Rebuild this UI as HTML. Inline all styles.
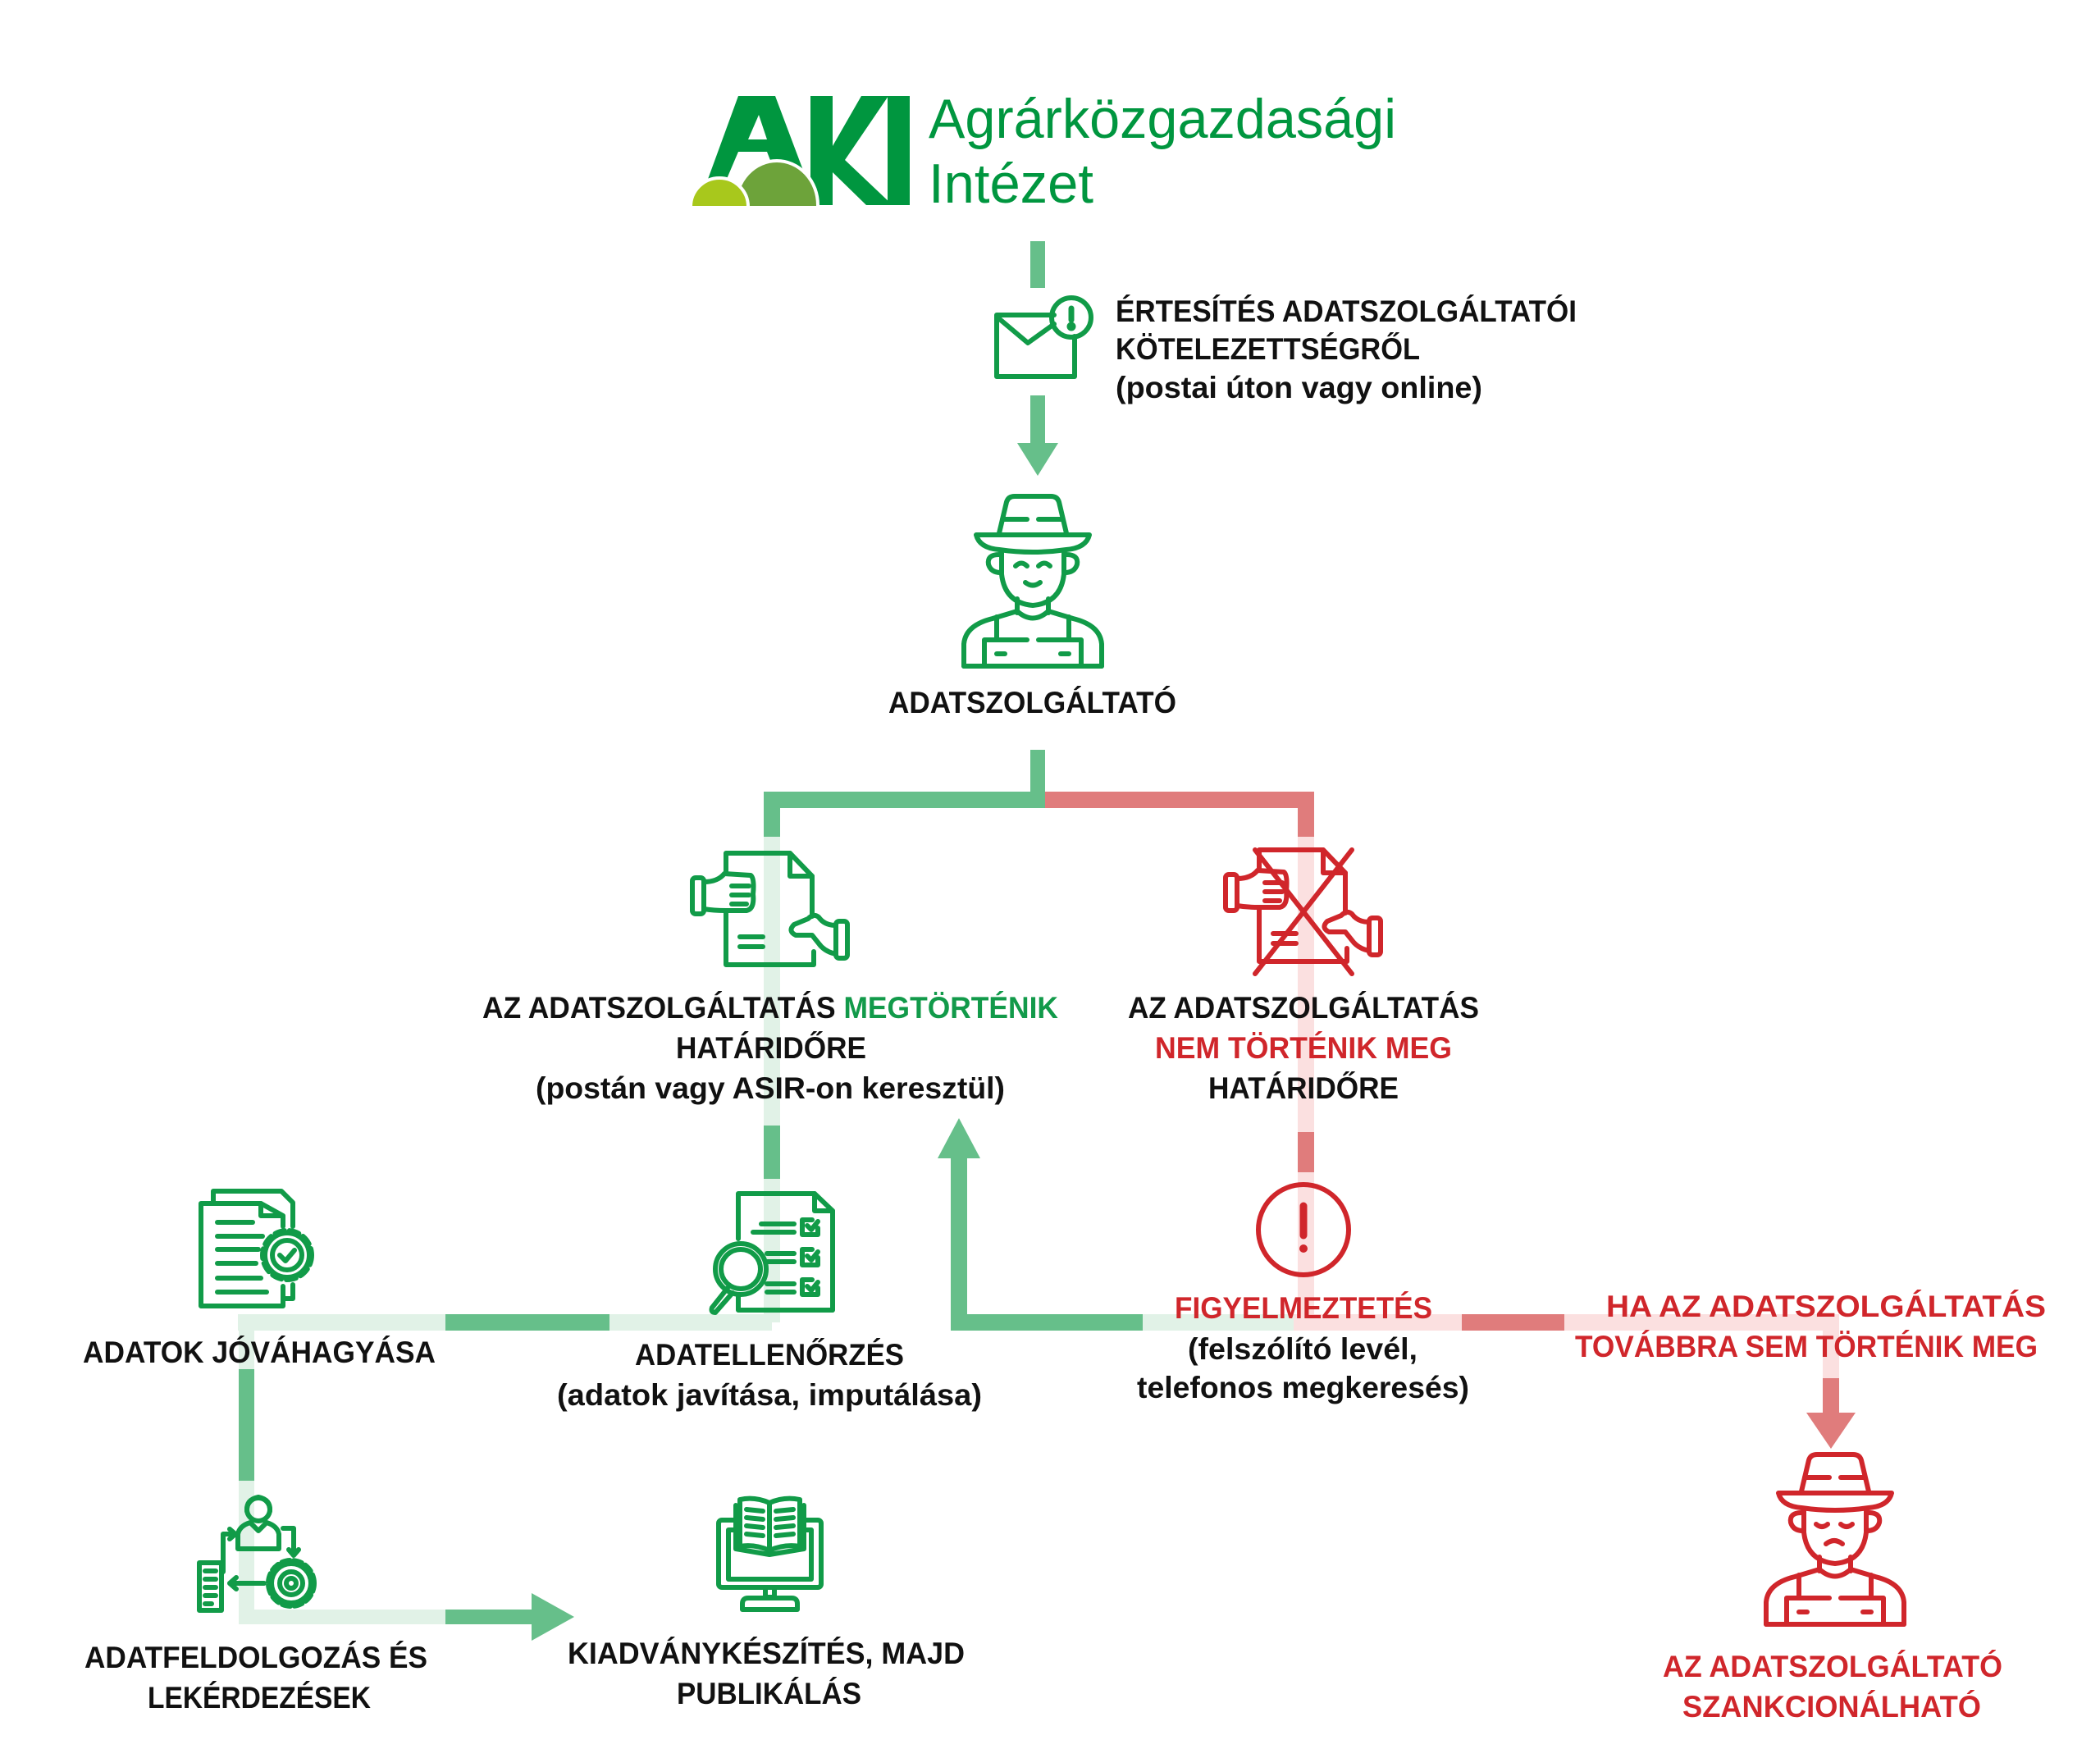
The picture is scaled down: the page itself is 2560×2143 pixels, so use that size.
<!DOCTYPE html>
<html><head><meta charset="utf-8"><style>
html,body{margin:0;padding:0;background:#fff;}
svg{display:block;}
text{font-family:"Liberation Sans",sans-serif;font-weight:bold;}
</style></head><body>
<svg width="2560" height="2143" viewBox="0 0 2560 2143" xmlns="http://www.w3.org/2000/svg">
<rect width="2560" height="2143" fill="#fff"/>

<!-- LOGO -->
<g>
<polygon points="858,232 900,117 945,117 995,250 960,250 935,185 900,185 880,232" fill="#00963f"/>
<polygon points="912,170 925,140 935,170" fill="#fff"/>
<rect x="988" y="117" width="27" height="133" fill="#00963f"/>
<polygon points="1015,178 1050,117 1083,117 1030,195 1088,250 1056,250 1015,210" fill="#00963f"/>
<rect x="1082" y="117" width="27" height="133" fill="#00963f"/>
<ellipse cx="947" cy="250" rx="50" ry="54" fill="#6da33a" stroke="#fff" stroke-width="4"/>
<circle cx="877" cy="252" r="35" fill="#a8c81c" stroke="#fff" stroke-width="4"/>
<rect x="830" y="251" width="200" height="70" fill="#fff"/>
<text x="1132" y="168" font-size="68" textLength="570" lengthAdjust="spacingAndGlyphs" fill="#00963f" style="font-weight:normal">Agrárközgazdasági</text>
<text x="1132" y="247" font-size="68" textLength="201" lengthAdjust="spacingAndGlyphs" fill="#00963f" style="font-weight:normal">Intézet</text>
</g>

<!-- CONNECTORS -->
<g>
<rect x="1256" y="294" width="18" height="57" fill="#66bf8a"/>
<rect x="1256" y="482" width="18" height="60" fill="#66bf8a"/>
<polygon points="1240,540 1290,540 1265,580" fill="#66bf8a"/>
<rect x="1256" y="914" width="18" height="61" fill="#66bf8a"/>
<rect x="931" y="965" width="343" height="20" fill="#66bf8a"/>
<rect x="1274" y="965" width="328" height="20" fill="#e07c7c"/>
<rect x="931" y="985" width="20" height="35" fill="#66bf8a"/>
<rect x="931" y="1020" width="20" height="352" fill="#e1f2e7"/>
<rect x="931" y="1372" width="20" height="65" fill="#66bf8a"/>
<rect x="931" y="1437" width="20" height="175" fill="#e1f2e7"/>
<rect x="1582" y="985" width="20" height="35" fill="#e07c7c"/>
<rect x="1582" y="1020" width="20" height="360" fill="#fbe0e0"/>
<rect x="1582" y="1380" width="20" height="49" fill="#e07c7c"/>
<rect x="1582" y="1429" width="20" height="183" fill="#fbe0e0"/>
<rect x="290" y="1602" width="253" height="20" fill="#e1f2e7"/>
<rect x="543" y="1602" width="200" height="20" fill="#66bf8a"/>
<rect x="743" y="1602" width="198" height="20" fill="#e1f2e7"/>
<rect x="1159" y="1602" width="234" height="20" fill="#66bf8a"/>
<rect x="1393" y="1602" width="184" height="20" fill="#e1f2e7"/>
<rect x="1577" y="1602" width="205" height="20" fill="#fbe0e0"/>
<rect x="1782" y="1602" width="125" height="20" fill="#e07c7c"/>
<rect x="1907" y="1602" width="335" height="20" fill="#fbe0e0"/>
<rect x="1159" y="1408" width="20" height="214" fill="#66bf8a"/>
<polygon points="1143,1412 1195,1412 1169,1363" fill="#66bf8a"/>
<rect x="2222" y="1612" width="20" height="68" fill="#fbe0e0"/>
<rect x="2222" y="1680" width="20" height="44" fill="#e07c7c"/>
<polygon points="2202,1722 2262,1722 2232,1766" fill="#e07c7c"/>
<rect x="291" y="1612" width="19" height="57" fill="#e1f2e7"/>
<rect x="291" y="1669" width="19" height="136" fill="#66bf8a"/>
<rect x="291" y="1805" width="19" height="175" fill="#e1f2e7"/>
<rect x="291" y="1962" width="252" height="18" fill="#e1f2e7"/>
<rect x="543" y="1962" width="107" height="18" fill="#66bf8a"/>
<polygon points="648,1942 648,2000 700,1971" fill="#66bf8a"/>
</g>

<!-- ICONS -->
<g fill="none" stroke="#119b48" stroke-width="6" stroke-linecap="round" stroke-linejoin="round">
<path d="M1285,384 L1215,384 L1215,459 L1310,459 L1310,410"/>
<path d="M1215,386 L1253,418 L1285,395"/>
<circle cx="1306" cy="387" r="24"/>
<line x1="1306" y1="376" x2="1306" y2="390" stroke-width="7"/>
<circle cx="1306" cy="398" r="2.5" fill="#119b48"/>

<g id="farmer">
<path d="M1218,650 L1227,612 Q1229,605 1237,605 L1281,605 Q1289,605 1291,612 L1300,650"/>
<line x1="1222" y1="633" x2="1252" y2="633"/><line x1="1266" y1="633" x2="1295" y2="633"/>
<path d="M1190,652 L1328,652 Q1324,668 1300,670 Q1259,676 1218,670 Q1194,668 1190,652Z"/>
<path d="M1221,672 L1221,700 Q1225,735 1259,738 Q1293,735 1297,700 L1297,672"/>
<path d="M1218,676 Q1203,676 1205,688 Q1208,698 1220,698"/>
<path d="M1300,676 Q1315,676 1313,688 Q1310,698 1298,698"/>
<line x1="1240" y1="730" x2="1240" y2="747"/><line x1="1278" y1="730" x2="1278" y2="747"/>
<path d="M1240,745 Q1259,762 1278,745"/>
<path d="M1175,812 L1175,785 Q1177,762 1210,754 L1240,745"/>
<path d="M1343,812 L1343,785 Q1341,762 1308,754 L1278,745"/>
<line x1="1215" y1="752" x2="1215" y2="780"/><line x1="1303" y1="752" x2="1303" y2="780"/>
<path d="M1252,780 L1200,780 L1200,812 L1318,812 L1318,780 L1266,780"/>
<line x1="1215" y1="797" x2="1225" y2="797"/><line x1="1293" y1="797" x2="1303" y2="797"/>
<line x1="1175" y1="812" x2="1343" y2="812"/>
</g>
<path d="M1238,690 Q1245,683 1252,690"/><path d="M1266,690 Q1273,683 1280,690"/>
<path d="M1250,710 Q1259,717 1268,710"/>

<g id="hand">
<path d="M885,1062 L885,1040 L963,1040 L990,1068 L990,1117"/>
<path d="M963,1040 L963,1068 L990,1068"/>
<path d="M885,1112 L885,1176 L992,1176 L992,1160"/>
<rect x="844" y="1070" width="14" height="44" rx="4"/>
<path d="M858,1075 Q875,1075 883,1065 L915,1067 Q920,1070 918,1090 Q920,1108 910,1110 L885,1110 Q870,1110 858,1108"/>
<line x1="892" y1="1080" x2="913" y2="1080"/><line x1="892" y1="1091" x2="913" y2="1091"/><line x1="892" y1="1102" x2="910" y2="1102"/>
<rect x="1019" y="1123" width="14" height="45" rx="4"/>
<path d="M1019,1128 Q1005,1128 998,1118 Q992,1113 985,1120 L968,1127 Q960,1135 970,1140 L990,1140 L998,1150 Q1005,1160 1019,1163"/>
<line x1="902" y1="1142" x2="930" y2="1142"/><line x1="902" y1="1154" x2="930" y2="1154"/>
</g>

<path d="M260,1467 L260,1452 L343,1452 L357,1466 L357,1495"/>
<path d="M357,1566 L357,1583 L345,1583"/>
<path d="M318,1467 L245,1467 L245,1592 L345,1592 L345,1568"/>
<path d="M318,1467 L345,1482 L345,1495 M318,1467 L318,1482 L345,1482"/>
<line x1="265" y1="1490" x2="308" y2="1490"/>
<line x1="265" y1="1507" x2="320" y2="1507"/>
<line x1="265" y1="1523" x2="315" y2="1523"/>
<line x1="265" y1="1540" x2="312" y2="1540"/>
<line x1="265" y1="1558" x2="318" y2="1558"/>
<line x1="265" y1="1575" x2="325" y2="1575"/>
<circle cx="350" cy="1530" r="30" stroke-dasharray="12 6"/>
<circle cx="350" cy="1530" r="27"/>
<circle cx="350" cy="1530" r="18"/>
<path d="M341,1530 L348,1537 L359,1524"/>

<path d="M900,1510 L900,1455 L993,1455 L1015,1476 L1015,1597 L900,1597 L900,1580"/>
<path d="M993,1455 L993,1476 L1015,1476"/>
<line x1="928" y1="1492" x2="968" y2="1492"/><line x1="918" y1="1502" x2="968" y2="1502"/>
<line x1="935" y1="1528" x2="968" y2="1528"/><line x1="935" y1="1538" x2="968" y2="1538"/>
<line x1="935" y1="1565" x2="968" y2="1565"/><line x1="935" y1="1575" x2="968" y2="1575"/>
<path d="M990,1487 L978,1487 L978,1505 L997,1505 L997,1497 M984,1494 L989,1499 L997,1489"/>
<path d="M990,1523 L978,1523 L978,1542 L997,1542 L997,1533 M984,1531 L989,1536 L997,1526"/>
<path d="M990,1560 L978,1560 L978,1578 L997,1578 L997,1570 M984,1568 L989,1573 L997,1563"/>
<circle cx="903" cy="1547" r="31" fill="#fff"/>
<circle cx="903" cy="1547" r="24"/>
<path d="M887,1570 L868,1594 Q866,1600 872,1600 L893,1576"/>

<circle cx="315" cy="1840" r="14"/>
<path d="M301,1842 Q300,1828 315,1825 Q330,1828 329,1842"/>
<path d="M290,1888 L290,1870 Q292,1860 305,1856 L315,1866 L325,1856 Q338,1860 340,1870 L340,1888 Z"/>
<path d="M272,1916 L272,1870 L285,1870 M280,1864 L287,1870 L280,1876"/>
<path d="M345,1863 L358,1863 L358,1895 M352,1889 L358,1896 L364,1889"/>
<rect x="243" y="1905" width="27" height="58"/>
<line x1="250" y1="1915" x2="263" y2="1915"/><line x1="250" y1="1925" x2="263" y2="1925"/><line x1="250" y1="1935" x2="263" y2="1935"/><line x1="250" y1="1945" x2="263" y2="1945"/><line x1="250" y1="1955" x2="258" y2="1955"/>
<path d="M322,1930 L280,1930 M288,1923 L280,1930 L288,1937"/>
<circle cx="355" cy="1930" r="28" stroke-dasharray="10 5"/>
<circle cx="355" cy="1930" r="24"/>
<circle cx="355" cy="1930" r="14"/>
<circle cx="355" cy="1930" r="6"/>

<rect x="876" y="1853" width="125" height="82" rx="4"/>
<rect x="888" y="1865" width="101" height="60"/>
<rect x="933" y="1935" width="11" height="12"/>
<path d="M905,1962 L905,1955 Q905,1948 912,1948 L965,1948 Q972,1948 972,1955 L972,1962 Z"/>
<path d="M897,1835 L897,1888 L938,1895 L980,1888 L980,1835" fill="#fff"/>
<path d="M902,1828 Q920,1824 938,1832 Q956,1824 975,1828 L975,1885 Q956,1882 938,1890 Q920,1882 902,1885 Z" fill="#fff"/>
<line x1="938" y1="1832" x2="938" y2="1890"/>
<line x1="910" y1="1840" x2="930" y2="1842"/><line x1="910" y1="1850" x2="930" y2="1852"/><line x1="910" y1="1860" x2="930" y2="1862"/><line x1="910" y1="1870" x2="930" y2="1872"/>
<line x1="946" y1="1842" x2="967" y2="1840"/><line x1="946" y1="1852" x2="967" y2="1850"/><line x1="946" y1="1862" x2="967" y2="1860"/><line x1="946" y1="1872" x2="967" y2="1870"/>
</g>

<g fill="none" stroke="#d0262b" stroke-width="6" stroke-linecap="round" stroke-linejoin="round">
<use href="#hand" transform="translate(650,-4)"/>
<line x1="1530" y1="1036" x2="1648" y2="1187"/>
<line x1="1648" y1="1036" x2="1530" y2="1187"/>
<circle cx="1589" cy="1499" r="55"/>
<line x1="1589" y1="1470" x2="1589" y2="1506" stroke-width="9"/>
<circle cx="1589" cy="1522" r="5" fill="#d0262b" stroke="none"/>
<use href="#farmer" transform="translate(978,1168)"/>
<path d="M2214,1858 Q2221,1864 2228,1858"/><path d="M2244,1858 Q2251,1864 2258,1858"/>
<path d="M2226,1882 Q2236,1874 2246,1882"/>
</g>

<g font-size="37" fill="#111">
<text x="1360" y="392" textLength="562" lengthAdjust="spacingAndGlyphs">ÉRTESÍTÉS ADATSZOLGÁLTATÓI</text>
<text x="1360" y="438" textLength="371" lengthAdjust="spacingAndGlyphs">KÖTELEZETTSÉGRŐL</text>
<text x="1360" y="485" textLength="447" lengthAdjust="spacingAndGlyphs">(postai úton vagy online)</text>
<text x="1083" y="869" textLength="351" lengthAdjust="spacingAndGlyphs">ADATSZOLGÁLTATÓ</text>

<text x="588" y="1241" textLength="702" lengthAdjust="spacingAndGlyphs">AZ ADATSZOLGÁLTATÁS <tspan fill="#129a4a">MEGTÖRTÉNIK</tspan></text>
<text x="824" y="1290" textLength="232" lengthAdjust="spacingAndGlyphs">HATÁRIDŐRE</text>
<text x="653" y="1339" textLength="572" lengthAdjust="spacingAndGlyphs">(postán vagy ASIR-on keresztül)</text>

<text x="1375" y="1241" textLength="428" lengthAdjust="spacingAndGlyphs">AZ ADATSZOLGÁLTATÁS</text>
<text x="1408" y="1290" textLength="362" lengthAdjust="spacingAndGlyphs" fill="#d0262b">NEM TÖRTÉNIK MEG</text>
<text x="1473" y="1339" textLength="232" lengthAdjust="spacingAndGlyphs">HATÁRIDŐRE</text>

<text x="101" y="1661" textLength="430" lengthAdjust="spacingAndGlyphs">ADATOK JÓVÁHAGYÁSA</text>
<text x="774" y="1664" textLength="328" lengthAdjust="spacingAndGlyphs">ADATELLENŐRZÉS</text>
<text x="679" y="1713" textLength="518" lengthAdjust="spacingAndGlyphs">(adatok javítása, imputálása)</text>

<text x="1432" y="1607" textLength="314" lengthAdjust="spacingAndGlyphs" fill="#d0262b">FIGYELMEZTETÉS</text>
<text x="1448" y="1657" textLength="280" lengthAdjust="spacingAndGlyphs">(felszólító levél,</text>
<text x="1386" y="1704" textLength="405" lengthAdjust="spacingAndGlyphs">telefonos megkeresés)</text>

<text x="1958" y="1605" textLength="536" lengthAdjust="spacingAndGlyphs" fill="#d0262b">HA AZ ADATSZOLGÁLTATÁS</text>
<text x="1920" y="1654" textLength="564" lengthAdjust="spacingAndGlyphs" fill="#d0262b">TOVÁBBRA SEM TÖRTÉNIK MEG</text>

<text x="103" y="2033" textLength="418" lengthAdjust="spacingAndGlyphs">ADATFELDOLGOZÁS ÉS</text>
<text x="180" y="2082" textLength="272" lengthAdjust="spacingAndGlyphs">LEKÉRDEZÉSEK</text>
<text x="692" y="2028" textLength="484" lengthAdjust="spacingAndGlyphs">KIADVÁNYKÉSZÍTÉS, MAJD</text>
<text x="825" y="2077" textLength="225" lengthAdjust="spacingAndGlyphs">PUBLIKÁLÁS</text>

<text x="2027" y="2044" textLength="414" lengthAdjust="spacingAndGlyphs" fill="#d0262b">AZ ADATSZOLGÁLTATÓ</text>
<text x="2051" y="2093" textLength="364" lengthAdjust="spacingAndGlyphs" fill="#d0262b">SZANKCIONÁLHATÓ</text>
</g>
</svg>
</body></html>
